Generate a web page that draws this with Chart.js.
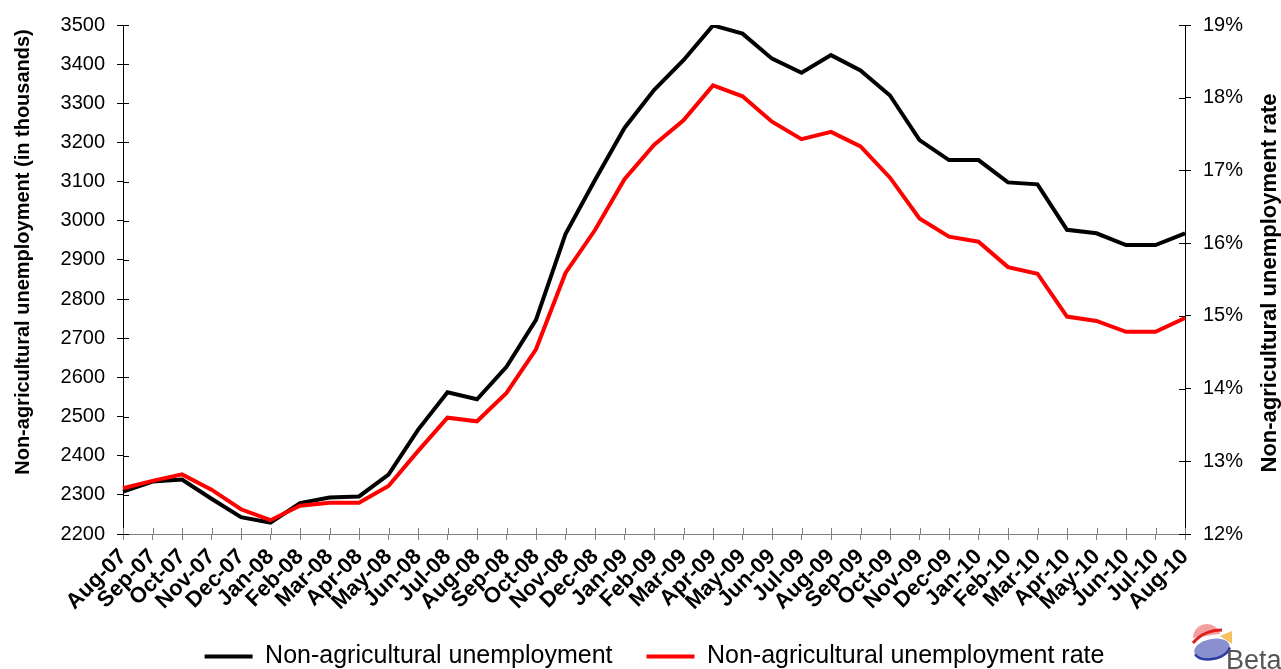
<!DOCTYPE html>
<html lang="en">
<head>
<meta charset="UTF-8" />
<title>Non-agricultural unemployment</title>
<style>
  body { margin: 0; background: #fff; }
  #wrap { width: 1281px; height: 669px; }
</style>
</head>
<body>
<div id="wrap"><canvas id="chart" width="1281" height="669"></canvas></div>
<script src="https://cdn.jsdelivr.net/npm/chart.js@4.4.0/dist/chart.umd.min.js"></script>
<script>
  // data
  const months = ['Aug-07', 'Sep-07', 'Oct-07', 'Nov-07', 'Dec-07', 'Jan-08', 'Feb-08', 'Mar-08', 'Apr-08',
    'May-08', 'Jun-08', 'Jul-08', 'Aug-08', 'Sep-08', 'Oct-08', 'Nov-08', 'Dec-08', 'Jan-09', 'Feb-09',
    'Mar-09', 'Apr-09', 'May-09', 'Jun-09', 'Jul-09', 'Aug-09', 'Sep-09', 'Oct-09', 'Nov-09', 'Dec-09',
    'Jan-10', 'Feb-10', 'Mar-10', 'Apr-10', 'May-10', 'Jun-10', 'Jul-10', 'Aug-10'];
  const unemployment = [2308, 2334, 2339, 2290, 2243, 2229, 2279, 2293, 2296,
    2352, 2466, 2562, 2544, 2627, 2747, 2966, 3104, 3237, 3334,
    3410, 3499, 3478, 3414, 3378, 3423, 3384, 3320, 3206, 3155,
    3155, 3098, 3093, 2977, 2968, 2938, 2938, 2968];
  const rate = [12.63, 12.73, 12.82, 12.61, 12.34, 12.19, 12.39, 12.43, 12.43,
    12.66, 13.14, 13.60, 13.55, 13.94, 14.54, 15.59, 16.18, 16.88, 17.35,
    17.69, 18.17, 18.02, 17.67, 17.43, 17.53, 17.33, 16.90, 16.34, 16.09,
    16.02, 15.67, 15.58, 14.99, 14.93, 14.78, 14.78, 14.97];
  const leftTitle = 'Non-agricultural unemployment (in thousands)';
  const rightTitle = 'Non-agricultural unemployment rate';

  const FONT = "'Liberation Sans', Arial, sans-serif";
  const PLOT_LEFT = 123, PLOT_RIGHT = 1185, PLOT_BOTTOM = 534;
  const PAD = { left: 28, right: 0, top: 25, bottom: -10 };

  // ticks in Excel cross the axis line, chart.js only draws the outer half
  const innerTicks = {
    id: 'innerTicks',
    beforeDatasetsDraw(chart) {
      const c = chart.ctx;
      const len = 6;
      c.save();
      c.lineWidth = 1;
      const x = chart.scales.x, y = chart.scales.y, y1 = chart.scales.y1;
      c.strokeStyle = '#808080';
      x.ticks.forEach((t, i) => {
        const px = Math.round(x.getPixelForTick(i)) + 0.5;
        c.beginPath(); c.moveTo(px, x.top); c.lineTo(px, x.top - len); c.stroke();
      });
      c.strokeStyle = '#000';
      y.ticks.forEach((t, i) => {
        const py = Math.round(y.getPixelForTick(i)) + 0.5;
        c.beginPath(); c.moveTo(y.right, py); c.lineTo(y.right + len, py); c.stroke();
      });
      y1.ticks.forEach((t, i) => {
        const py = Math.round(y1.getPixelForTick(i)) + 0.5;
        c.beginPath(); c.moveTo(y1.left, py); c.lineTo(y1.left - len, py); c.stroke();
      });
      c.restore();
    }
  };

  // both axis titles read bottom-to-top, so draw them by hand
  const axisTitles = {
    id: 'axisTitles',
    afterDraw(chart) {
      const c = chart.ctx;
      c.save();
      c.fillStyle = '#000';
      c.textAlign = 'center';
      c.textBaseline = 'middle';
      c.font = "bold 20px " + FONT;
      c.translate(23, 252); c.rotate(-Math.PI / 2);
      c.fillText(leftTitle, 0, 0);
      c.restore();
      c.save();
      c.fillStyle = '#000';
      c.textAlign = 'center';
      c.textBaseline = 'middle';
      c.font = "bold 22px " + FONT;
      c.translate(1270, 283); c.rotate(-Math.PI / 2);
      c.fillText(rightTitle, 0, 0);
      c.restore();
    }
  };

  // rough stand-in for the Beta logo in the corner
  const logo = {
    id: 'logo',
    afterDraw(chart) {
      const c = chart.ctx;
      c.save();
      c.fillStyle = '#8a8fd0';
      c.beginPath(); c.ellipse(1212, 649, 18, 10, -0.2, 0, Math.PI * 2); c.fill();
      c.strokeStyle = '#2b3aa0'; c.lineWidth = 2.5;
      c.beginPath(); c.ellipse(1212, 649, 18, 10, -0.2, 0.2, Math.PI - 0.2); c.stroke();
      c.fillStyle = '#f2a0a0';
      c.beginPath(); c.arc(1207, 638, 14, Math.PI, Math.PI * 1.9); c.fill();
      c.strokeStyle = '#e02020'; c.lineWidth = 3;
      c.beginPath(); c.moveTo(1193, 643); c.quadraticCurveTo(1204, 630, 1222, 630); c.stroke();
      c.fillStyle = '#f5c060';
      c.beginPath(); c.moveTo(1220, 636); c.lineTo(1232, 631); c.lineTo(1232, 644); c.closePath(); c.fill();
      c.fillStyle = '#555';
      c.font = "27px " + FONT;
      c.textBaseline = 'alphabetic';
      c.fillText('Beta', 1226, 669);
      c.restore();
    }
  };

  const ctx = document.getElementById('chart').getContext('2d');
  const chart = new Chart(ctx, {
    type: 'line',
    data: {
      labels: months,
      datasets: [
        {
          label: 'Non-agricultural unemployment',
          data: unemployment,
          borderColor: '#000',
          backgroundColor: '#000',
          borderWidth: 4,
          pointRadius: 0,
          tension: 0,
          yAxisID: 'y',
          order: 1
        },
        {
          label: 'Non-agricultural unemployment rate',
          data: rate,
          borderColor: '#ff0000',
          backgroundColor: '#ff0000',
          borderWidth: 4,
          pointRadius: 0,
          tension: 0,
          yAxisID: 'y1',
          order: 0
        }
      ]
    },
    options: {
      responsive: false,
      animation: false,
      layout: { padding: PAD },
      scales: {
        x: {
          offset: false,
          grid: { display: true, drawOnChartArea: false, tickLength: 6, color: '#808080' },
          border: { color: '#808080', width: 1 },
          ticks: {
            color: '#000',
            font: { family: FONT, size: 22, weight: 'bold' },
            minRotation: 45,
            maxRotation: 45,
            autoSkip: false,
            padding: 4
          },
          afterFit(scale) {
            scale.height = scale.chart.height - PLOT_BOTTOM - scale.chart.legend.height - PAD.bottom;
          }
        },
        y: {
          position: 'left',
          min: 2200,
          max: 3500,
          grid: { display: true, drawOnChartArea: false, tickLength: 6, color: '#000' },
          border: { color: '#000', width: 1 },
          ticks: {
            stepSize: 100,
            color: '#000',
            padding: 12,
            font: { family: FONT, size: 20 },
            callback: v => String(v)
          },
          afterFit(scale) { scale.width = PLOT_LEFT - PAD.left; }
        },
        y1: {
          position: 'right',
          min: 12,
          max: 19,
          grid: { display: true, drawOnChartArea: false, tickLength: 6, color: '#000' },
          border: { color: '#000', width: 1 },
          ticks: {
            stepSize: 1,
            color: '#000',
            padding: 12,
            font: { family: FONT, size: 20 },
            callback: v => v + '%'
          },
          afterFit(scale) { scale.width = 1281 - PLOT_RIGHT - PAD.right; }
        }
      },
      plugins: {
        legend: {
          position: 'bottom',
          labels: {
            color: '#000',
            font: { family: FONT, size: 25 },
            usePointStyle: true,
            pointStyle: 'line',
            pointStyleWidth: 48,
            padding: 34,
            sort: (a, b) => a.datasetIndex - b.datasetIndex
          }
        },
        tooltip: { enabled: false }
      }
    },
    plugins: [innerTicks, axisTitles, logo]
  });
</script>
</body>
</html>
